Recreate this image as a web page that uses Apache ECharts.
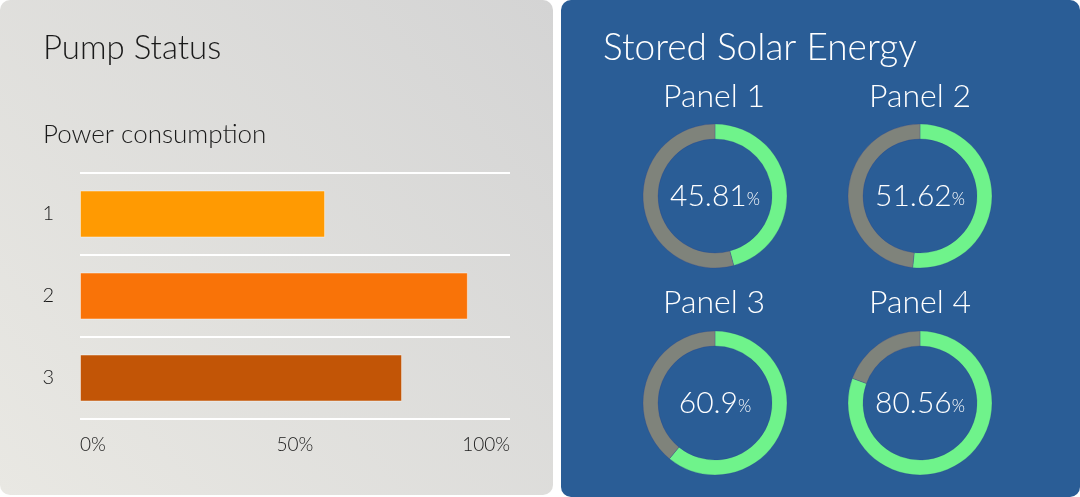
<!DOCTYPE html>
<html>
<head>
<meta charset="utf-8">
<script src="https://cdn.jsdelivr.net/npm/echarts@6/dist/echarts.min.js"></script>
<style>
html,body{margin:0;padding:0;background:#ffffff;}
#main{width:1080px;height:497px;}
</style>
</head>
<body>
<div id="main"></div>
<script>
const pumpCategories = ['1', '2', '3'];
const powerValues = [57, 90.2, 74.9];
const barColors = ['#ff9a02', '#f97308', '#c25506'];
const panelNames = ['Panel 1', 'Panel 2', 'Panel 3', 'Panel 4'];
const panelValues = [45.81, 51.62, 60.9, 80.56];

const FONT = 'Lato';
const chart = echarts.init(document.getElementById('main'));

const pieCenters = [[715, 196], [920, 196], [715, 403], [920, 403]];
const panelTitlePos = [[714, 81], [920, 81], [714, 287], [920, 287]];

const titles = [
  {text: 'Pump Status', left: 43, top: 32, padding: 0, textStyle: {fontFamily: FONT, fontWeight: 300, fontSize: 33, color: '#1a1a1a'}},
  {text: 'Power consumption', left: 43, top: 122, padding: 0, textStyle: {fontFamily: FONT, fontWeight: 300, fontSize: 26, color: '#1a1a1a'}},
  {text: 'Stored Solar Energy', left: 603, top: 30, padding: 0, textStyle: {fontFamily: FONT, fontWeight: 300, fontSize: 37, color: '#ffffff'}}
];
panelNames.forEach((n, i) => {
  titles.push({text: n, left: panelTitlePos[i][0], top: panelTitlePos[i][1], padding: 0, textAlign: 'center',
    textStyle: {fontFamily: FONT, fontWeight: 300, fontSize: 32, color: '#ffffff'}});
});

const pies = panelValues.map((v, i) => ({
  type: 'pie',
  center: pieCenters[i],
  radius: [57, 72],
  startAngle: 90,
  clockwise: true,
  silent: true,
  label: {show: false},
  labelLine: {show: false},
  itemStyle: {borderColor: 'rgba(40,60,140,0.5)', borderWidth: 0.5},
  data: [
    {value: v, itemStyle: {color: '#6ff38b'},
      label: {show: true, position: 'center', formatter: '{a|' + v + '}{b|%}',
        rich: {a: {fontFamily: FONT, fontWeight: 300, fontSize: 30, color: '#ffffff'},
               b: {fontFamily: FONT, fontWeight: 300, fontSize: 17, color: '#ffffff', padding: [7, 0, 0, 0]}}}},
    {value: +(100 - v).toFixed(2), itemStyle: {color: '#7f837b'}, label: {show: false}}
  ]
}));

chart.setOption({
  animation: false,
  graphic: [
    {type: 'rect', z: -10, shape: {x: 0, y: 0, width: 553, height: 495, r: 10},
      style: {fill: new echarts.graphic.LinearGradient(0, 1, 1, 0, [
        {offset: 0, color: '#e9e8e3'}, {offset: 1, color: '#d4d4d4'}])}},
    {type: 'rect', z: -10, shape: {x: 561, y: 0, width: 519, height: 497, r: 10},
      style: {fill: '#2a5d96'}}
  ],
  title: titles,
  grid: {left: 80, right: 570, top: 173, height: 246, containLabel: false},
  xAxis: {
    type: 'value', min: 0, max: 100, interval: 50,
    axisLine: {show: false}, axisTick: {show: false}, splitLine: {show: false},
    axisLabel: {formatter: '{value}%', fontFamily: FONT, fontWeight: 300, fontSize: 19, color: '#1a1a1a',
      margin: 16, alignMinLabel: 'left', alignMaxLabel: 'right'}
  },
  yAxis: {
    type: 'category', data: pumpCategories, inverse: true,
    axisLine: {show: false}, axisTick: {show: false},
    splitLine: {show: true, lineStyle: {color: '#ffffff', width: 2}},
    axisLabel: {fontFamily: FONT, fontWeight: 300, fontSize: 20, color: '#1a1a1a', margin: 26}
  },
  series: [
    {type: 'bar', barWidth: 47, silent: true,
      data: powerValues.map((v, i) => ({value: v, itemStyle: {color: barColors[i], borderColor: 'rgba(255,255,255,0.45)', borderWidth: 1}}))},
    ...pies
  ]
});
</script>
</body>
</html>
